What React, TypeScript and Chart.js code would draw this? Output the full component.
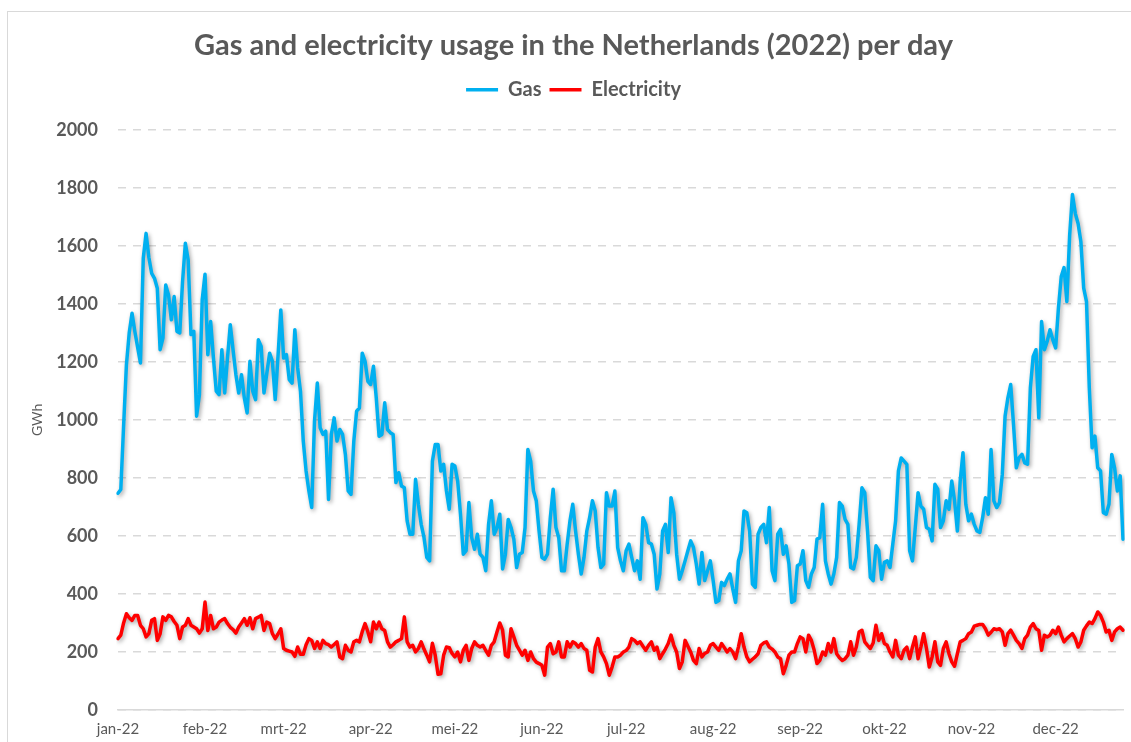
import React, { useEffect, useRef } from 'react';
import { Chart, registerables } from 'chart.js';

Chart.register(...registerables);

const TITLE = 'Gas and electricity usage in the Netherlands (2022) per day';
const SERIES_NAMES = ['Gas', 'Electricity'];
const MONTH_LABELS = ['jan-22', 'feb-22', 'mrt-22', 'apr-22', 'mei-22', 'jun-22', 'jul-22', 'aug-22', 'sep-22', 'okt-22', 'nov-22', 'dec-22'];
const MONTH_START_DAYS = [0, 31, 59, 90, 120, 151, 181, 212, 243, 273, 304, 334];
const Y_MIN = 0;
const Y_MAX = 2000;
const Y_STEP = 200;

// Daily gas usage (GWh), 1 Jan 2022 onwards
const GAS = [
  747, 760, 980, 1190, 1300, 1368, 1305, 1250, 1196, 1557,
  1643, 1560, 1505, 1488, 1454, 1242, 1282, 1465, 1431, 1345,
  1425, 1305, 1300, 1477, 1609, 1551, 1294, 1305, 1013, 1087,
  1414, 1502, 1225, 1339, 1213, 1099, 1087, 1242, 1093, 1213,
  1328, 1240, 1156, 1093, 1156, 1076, 1024, 1202, 1099, 1070,
  1276, 1253, 1093, 1160, 1230, 1202, 1070, 1220,
  1379, 1213, 1225, 1139, 1127, 1311, 1179, 1099, 927, 824,
  755, 698, 996, 1127, 973, 950, 961, 726, 950, 1007,
  927, 967, 950, 881, 755, 743, 927, 1030, 1041, 1230,
  1202, 1133, 1122, 1185, 1076, 944, 950, 1059, 967, 956,
  950, 784, 818, 772, 766, 652, 606, 606, 795, 709,
  640, 595, 526, 514, 858, 915, 915, 824, 847, 755,
  692, 847, 841, 789, 675, 537, 549, 715, 594, 554,
  606, 537, 526, 480, 640, 721, 606, 629, 675, 486,
  537, 657, 629, 589, 491, 537, 543, 629, 898, 858,
  755, 721, 617, 526, 520, 537, 663, 761, 629, 594,
  480, 480, 572, 652, 709, 617, 537, 469, 526, 617,
  663, 721, 686, 560, 491, 503, 749, 703, 703, 755,
  560, 514,
  480, 549, 572, 526, 480, 514, 451, 663, 640, 577,
  572, 537, 417, 469, 617, 640, 543, 732, 680, 537,
  451, 480, 514, 549, 583, 560, 503, 434, 543, 446,
  480, 514, 446, 371, 377, 440, 429, 451, 469, 417,
  371, 514, 549, 686, 680, 617, 434, 423, 606, 629,
  640, 577, 698, 480, 446, 606, 623, 537, 566, 503,
  371,
  377, 497, 503, 549, 446, 423, 469, 491, 589, 594,
  709, 514, 469, 434, 469, 526, 715, 703, 657, 640,
  491, 486, 526, 640, 766, 749, 617, 457, 446, 566,
  549, 451, 509, 514, 491, 572, 652, 824, 869, 858,
  847, 549, 514, 629, 749, 703, 692, 629, 623, 583,
  778, 761, 629, 652, 721, 692, 789, 721, 617, 789,
  887,
  709, 652, 675, 640, 617, 612, 663, 732, 675, 898,
  721, 698, 715, 812, 1013, 1076, 1122, 984, 835, 870,
  881, 852, 847, 1110, 1219, 1242, 1007, 1339, 1242, 1271,
  1311, 1276, 1248, 1385, 1494, 1525, 1408, 1637, 1777, 1712,
  1677, 1614, 1454, 1408, 1110, 904, 944, 835, 824, 680,
  675, 709, 881, 835, 755, 807, 589,
];

// Daily electricity usage (GWh)
const ELECTRICITY = [
  246, 258, 300, 332, 318, 309, 326, 326, 292, 280,
  252, 263, 309, 315, 240, 263, 321, 309, 326, 321,
  305, 292, 246, 286, 292, 315, 292, 286, 280, 265,
  280, 372, 274, 326, 280, 286, 303, 310, 315, 298,
  285, 277, 265, 286, 300, 315, 292, 318, 280, 315,
  320, 326, 274, 303, 298, 263, 246, 262,
  280, 212, 206, 203, 200, 185, 217, 192, 192, 225,
  246, 240, 212, 235, 212, 240, 229, 225, 217, 226,
  235, 183, 177, 223, 206, 200, 235, 240, 235, 270,
  298, 270, 235, 303, 280, 303, 280, 274, 235, 217,
  225, 235, 240, 246, 321, 235, 217, 223, 200, 212,
  235, 210, 189, 166, 230, 189, 123, 125, 189, 217,
  215, 195, 183, 200, 166, 206, 223, 171, 212, 235,
  223, 217, 223, 205, 189, 223, 235, 269, 300, 275,
  189, 183, 280, 252, 223, 206, 189, 206, 171, 200,
  177, 165, 160, 154, 120, 217, 229, 194, 200, 235,
  183, 183, 235, 217, 235, 229, 217, 229, 212, 206,
  137, 131, 217, 246, 200, 183, 160, 120, 148, 183,
  183, 189, 200, 205, 217, 246, 240, 229, 235, 220,
  206, 223, 235, 206, 217, 177, 194, 210, 229, 258,
  223, 200, 143, 166, 240, 220, 200, 171, 160, 212,
  183, 195, 200, 223, 229, 217, 206, 229, 215, 200,
  212, 200, 177, 217, 263, 217, 183, 166, 175, 183,
  194, 223, 231, 235, 217, 210, 200, 183, 177, 125,
  154, 189, 200,
  200, 229, 252, 246, 200, 258, 240, 206, 160, 171,
  200, 189, 229, 200, 246, 194, 180, 171, 177, 189,
  235, 189, 217, 269, 275, 235, 223, 212, 231, 292,
  240, 263, 229, 223, 200, 183, 240, 189, 177, 206,
  217, 177, 217, 252,
  177, 217, 263, 212, 148, 183, 235, 166, 154, 212,
  235, 194, 166, 151, 194, 235, 240, 246, 263, 269,
  289, 292, 295, 295, 280, 258, 268, 280, 277, 280,
  269, 223, 263, 275, 258, 240, 229, 212, 246, 258,
  286, 298, 280, 274, 206, 258, 252, 258, 275, 263,
  286, 258, 235, 246, 255, 263, 246, 217, 235, 275,
  290, 303, 298, 315, 338, 326, 303, 269, 275, 240,
  269, 280, 286, 275,
];

const DAY_CATEGORIES = GAS.map((_, i) => String(i));

const GAS_COLOR = '#00b0f0';
const ELEC_COLOR = '#ff0000';
const TEXT_COLOR = '#595959';
const GRID_COLOR = '#d9d9d9';
const FONT = 'Lato, "Open Sans", sans-serif';

export default function App() {
  const canvasRef = useRef<HTMLCanvasElement | null>(null);

  useEffect(() => {
    if (!canvasRef.current) return;

    const shadowPlugin = {
      id: 'lineShadow',
      beforeDatasetsDraw(chart: any) {
        const c = chart.ctx;
        c.save();
        c.shadowColor = 'rgba(0,0,0,0.35)';
        c.shadowBlur = 4;
        c.shadowOffsetX = 1.5;
        c.shadowOffsetY = 2;
      },
      afterDatasetsDraw(chart: any) {
        chart.ctx.restore();
      },
    };

    const legendMargin = {
      id: 'legendMargin',
      afterInit(chart: any) {
        const legend = chart.legend;
        if (!legend) return;
        const origFit = legend.fit;
        legend.fit = function () {
          origFit.call(this);
          this.height += 20;
        };
      },
    };

    const chart = new Chart(canvasRef.current, {
      type: 'line',
      data: {
        labels: DAY_CATEGORIES,
        datasets: [
          {
            label: SERIES_NAMES[0],
            data: GAS,
            borderColor: GAS_COLOR,
            backgroundColor: GAS_COLOR,
            borderWidth: 3.5,
            pointRadius: 0,
            tension: 0,
            borderJoinStyle: 'round',
            borderCapStyle: 'round',
          },
          {
            label: SERIES_NAMES[1],
            data: ELECTRICITY,
            borderColor: ELEC_COLOR,
            backgroundColor: ELEC_COLOR,
            borderWidth: 3.5,
            pointRadius: 0,
            tension: 0,
            borderJoinStyle: 'round',
            borderCapStyle: 'round',
          },
        ],
      },
      options: {
        responsive: false,
        animation: false,
        devicePixelRatio: 1,
        layout: { padding: { top: 0, right: 17, bottom: 0, left: 17 } },
        plugins: {
          title: {
            display: true,
            text: TITLE,
            color: TEXT_COLOR,
            font: { family: FONT, size: 29, weight: 'bold' },
            padding: { top: 17, bottom: 9 },
          },
          legend: {
            display: true,
            position: 'top',
            labels: {
              usePointStyle: true,
              pointStyle: 'line',
              pointStyleWidth: 32,
              padding: 8,
              color: TEXT_COLOR,
              font: { family: FONT, size: 20, weight: 'bold' },
            },
          },
          tooltip: { enabled: false },
        },
        scales: {
          x: {
            type: 'category',
            grid: { display: false, drawTicks: false },
            border: { display: true, color: GRID_COLOR, width: 1.5 },
            ticks: {
              autoSkip: false,
              maxRotation: 0,
              minRotation: 0,
              padding: 10,
              color: TEXT_COLOR,
              font: { family: FONT, size: 15 },
              callback: (_v: any, index: number) => {
                const m = MONTH_START_DAYS.indexOf(index);
                return m >= 0 ? MONTH_LABELS[m] : null;
              },
            },
            afterFit: (s: any) => {
              s.height = 45;
            },
          },
          y: {
            min: Y_MIN,
            max: Y_MAX,
            ticks: {
              stepSize: Y_STEP,
              padding: 20,
              color: TEXT_COLOR,
              font: { family: FONT, size: 18, weight: 'bold' },
              callback: (v: any) => String(v),
            },
            grid: { color: GRID_COLOR, lineWidth: 1.5, drawTicks: false },
            border: { display: false, dash: [8, 7] },
            title: {
              display: true,
              text: 'GWh',
              color: TEXT_COLOR,
              font: { family: FONT, size: 14 },
              padding: { top: 5, bottom: 0 },
            },
            afterFit: (s: any) => {
              s.width = 94;
            },
          },
        },
      },
      plugins: [shadowPlugin, legendMargin],
    } as any);

    return () => chart.destroy();
  }, []);

  return (
    <div style={{ position: 'fixed', left: 0, top: 0, width: 1131, height: 742, overflow: 'hidden', background: '#ffffff' }}>
      <div
        style={{
          position: 'absolute',
          left: 7,
          top: 11,
          width: 1133,
          height: 760,
          border: '1px solid #d9d9d9',
          boxSizing: 'border-box',
        }}
      />
      <canvas
        ref={canvasRef}
        width={1133}
        height={744}
        style={{ position: 'absolute', left: 7, top: 11 }}
      />
    </div>
  );
}
